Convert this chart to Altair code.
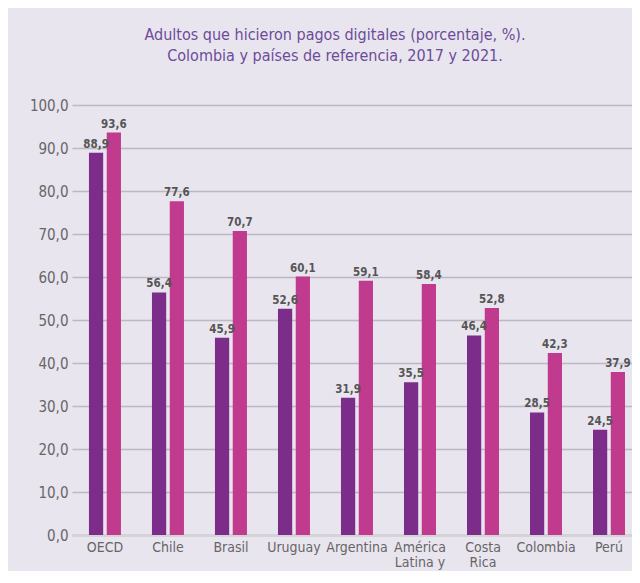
import altair as alt
import pandas as pd

categories = ["OECD", "Chile", "Brasil", "Uruguay", "Argentina",
              "América|Latina y", "Costa|Rica", "Colombia", "Perú"]
v2017 = [88.9, 56.4, 45.9, 52.6, 31.9, 35.5, 46.4, 28.5, 24.5]
v2021 = [93.6, 77.6, 70.7, 60.1, 59.1, 58.4, 52.8, 42.3, 37.9]
years = ["2017", "2021"]
colors = ["#7b2d89", "#c03b8d"]

rows = []
for c, a, b in zip(categories, v2017, v2021):
    rows.append({"cat": c, "year": "2017", "value": a})
    rows.append({"cat": c, "year": "2021", "value": b})
df = pd.DataFrame(rows)
df["label"] = df["value"].map(lambda v: f"{v:.1f}".replace(".", ","))

FONT = "DejaVu Sans Condensed, sans-serif"

xscale = alt.Scale(domain=categories, paddingInner=0.492, paddingOuter=0.19, align=0.708)
x = alt.X("cat:N", sort=categories, scale=xscale,
          axis=alt.Axis(title=None, labelExpr="split(datum.label, '|')", labelAngle=0,
                        labelFont=FONT, labelFontSize=14, labelColor="#666666",
                        labelLineHeight=15, labelPadding=5, ticks=False,
                        domainColor="#d4d3d8", domainWidth=3, grid=False))
xoff = alt.XOffset("year:N", scale=alt.Scale(domain=years, paddingInner=0.2))
y = alt.Y("value:Q", scale=alt.Scale(domain=[0, 100]),
          axis=alt.Axis(title=None, values=list(range(0, 101, 10)),
                        labelExpr="replace(format(datum.value, '.1f'), '.', ',')",
                        labelFont=FONT, labelFontSize=15, labelColor="#666666",
                        labelPadding=4, ticks=False, domain=False,
                        gridColor="#bdb9c4", gridWidth=1.3))

bars = alt.Chart(df).mark_bar().encode(
    x=x, xOffset=xoff, y=y,
    color=alt.Color("year:N", scale=alt.Scale(domain=years, range=colors), legend=None),
)
labels = alt.Chart(df).mark_text(
    baseline="bottom", dy=-3, font=FONT, fontSize=11.5, fontWeight="bold", color="#555555"
).encode(x=x, xOffset=xoff, y=y, text="label:N")

chart = alt.layer(bars, labels).properties(
    width=560, height=430,
    padding={"left": 64, "top": 97, "right": 0, "bottom": 36},
    autosize=alt.AutoSizeParams(type="none"),
    background="#e9e5ef",
    title=alt.TitleParams(
        text=["Adultos que hicieron pagos digitales (porcentaje, %).",
              "Colombia y países de referencia, 2017 y 2021."],
        font=FONT, fontSize=16, fontWeight="normal", color="#6c4c9a",
        lineHeight=21, anchor="middle", dx=-17, offset=34),
).configure_view(stroke=None)

chart.save("out.html", embed_options={"renderer": "svg", "actions": False})
